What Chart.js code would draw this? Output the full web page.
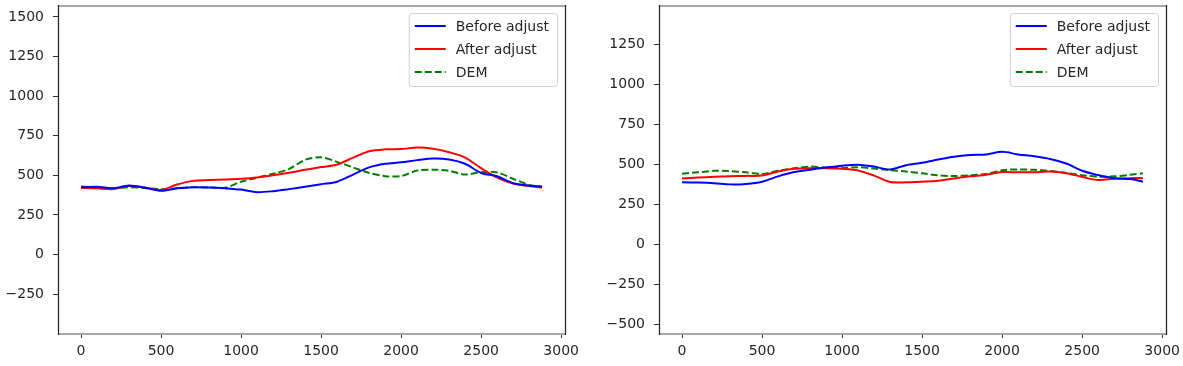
<!DOCTYPE html>
<html lang="en">
<head>
    <meta charset="UTF-8">
    <title>Before / After adjust vs DEM</title>
    <script src="https://cdn.jsdelivr.net/npm/chart.js@4.4.0/dist/chart.umd.min.js"></script>
    <style>
        body {
            margin: 0;
            padding: 0;
            background: #ffffff;
        }
        .wrap {
            position: relative;
            width: 1183px;
            height: 366px;
        }
        .panel {
            position: absolute;
            top: 0;
            height: 366px;
        }
        #leftPanel { left: 0; width: 600px; }
        #rightPanel { left: 600px; width: 583px; }
    </style>
</head>
<body>
<div class="wrap">
    <div class="panel" id="leftPanel"><canvas id="leftChart"></canvas></div>
    <div class="panel" id="rightPanel"><canvas id="rightChart"></canvas></div>
</div>

<script>
// distance along the profile (shared by both panels)
const distance = [0, 100, 200, 300, 400, 500, 600, 700, 800, 900, 1000, 1100, 1200, 1300, 1400,
                  1500, 1600, 1700, 1800, 1900, 2000, 2100, 2200, 2300, 2400, 2500, 2600, 2700, 2800, 2880];

const seriesNames = ['Before adjust', 'After adjust', 'DEM'];

// left panel
const leftBefore = [425, 428, 418, 436, 422, 402, 418, 425, 423, 418, 410, 394, 400, 413, 428,
                    444, 460, 505, 550, 573, 582, 596, 606, 600, 573, 515, 494, 450, 435, 429];
const leftAfter  = [420, 418, 413, 432, 423, 408, 442, 465, 470, 474, 479, 487, 500, 516, 535,
                    552, 568, 612, 652, 664, 666, 675, 668, 646, 612, 545, 486, 448, 432, 421];
const leftDem    = [429, 424, 419, 425, 420, 413, 418, 425, 423, 421, 460, 485, 510, 540, 598,
                    614, 585, 550, 515, 495, 495, 530, 536, 528, 505, 520, 518, 478, 440, 429];

// right panel
const rightBefore = [388, 386, 382, 375, 378, 392, 425, 452, 467, 480, 492, 498, 486, 468, 495,
                     510, 530, 548, 558, 562, 578, 562, 550, 533, 505, 460, 433, 413, 408, 392];
const rightAfter  = [412, 418, 422, 425, 428, 430, 456, 472, 476, 476, 472, 462, 430, 390, 388,
                     392, 398, 412, 425, 435, 452, 450, 451, 455, 445, 422, 402, 410, 414, 414];
const rightDem    = [442, 450, 460, 458, 450, 440, 460, 475, 486, 480, 478, 482, 474, 464, 455,
                     444, 432, 427, 432, 440, 464, 468, 466, 458, 447, 432, 423, 425, 435, 444];

// tick labels
const xTicks = [0, 500, 1000, 1500, 2000, 2500, 3000];
const leftYTicks = [-250, 0, 250, 500, 750, 1000, 1250, 1500];
const rightYTicks = [-500, -250, 0, 250, 500, 750, 1000, 1250];

const FONT = 'DejaVu Sans';
const FONT_SIZE = 14;

function toPoints(ys) {
    return ys.map((y, i) => ({ x: distance[i], y: y }));
}

// box around the plot area, like matplotlib's spines
const frame = {
    id: 'frame',
    afterDatasetsDraw(chart) {
        const a = chart.chartArea, ctx = chart.ctx;
        const l = Math.round(a.left), r = Math.round(a.right);
        const t = Math.round(a.top), b = Math.round(a.bottom);
        ctx.save();
        // top and bottom come out softer in the original
        ctx.strokeStyle = '#a8a8a8';
        ctx.lineWidth = 2;
        ctx.beginPath();
        ctx.moveTo(l, t + 1); ctx.lineTo(r, t + 1);
        ctx.moveTo(l, b + 1); ctx.lineTo(r, b + 1);
        ctx.stroke();
        ctx.strokeStyle = '#2a2a2a';
        ctx.lineWidth = 1.3;
        ctx.beginPath();
        ctx.moveTo(l + 0.5, t); ctx.lineTo(l + 0.5, b + 2);
        ctx.moveTo(r + 0.5, t); ctx.lineTo(r + 0.5, b + 2);
        ctx.stroke();
        ctx.restore();
    }
};

// legend in upper right corner of the plot area
const boxLegend = {
    id: 'boxLegend',
    afterDatasetsDraw(chart) {
        const a = chart.chartArea, ctx = chart.ctx;
        const sets = chart.data.datasets;
        ctx.save();
        ctx.font = FONT_SIZE + 'px "' + FONT + '"';
        let textW = 0;
        sets.forEach(d => { textW = Math.max(textW, ctx.measureText(d.label).width); });
        const w = 47 + textW + 8;
        const h = 73;
        const x0 = a.right - 8 - w;
        const y0 = a.top + 8;
        ctx.fillStyle = 'rgba(255,255,255,0.8)';
        ctx.strokeStyle = '#d0d0d0';
        ctx.lineWidth = 1;
        ctx.beginPath();
        ctx.roundRect(x0 + 0.5, y0 + 0.5, w, h, 3);
        ctx.fill();
        ctx.stroke();
        sets.forEach((d, i) => {
            const cy = y0 + 13 + i * 23;
            ctx.strokeStyle = d.borderColor;
            ctx.lineWidth = 2;
            ctx.setLineDash(d.borderDash || []);
            ctx.beginPath();
            ctx.moveTo(x0 + 6, cy);
            ctx.lineTo(x0 + 37, cy);
            ctx.stroke();
            ctx.setLineDash([]);
            ctx.fillStyle = '#262626';
            ctx.textBaseline = 'middle';
            ctx.fillText(d.label, x0 + 47, cy + 1);
        });
        ctx.restore();
    }
};

function makeChart(canvasId, before, after, dem, yMin, yMax, yTicks, yAxisWidth, padRight) {
    return new Chart(document.getElementById(canvasId), {
        type: 'line',
        data: {
            datasets: [
                { label: seriesNames[0], data: toPoints(before), borderColor: '#0000ff', borderWidth: 2 },
                { label: seriesNames[1], data: toPoints(after), borderColor: '#ff0000', borderWidth: 2 },
                { label: seriesNames[2], data: toPoints(dem), borderColor: '#008000', borderWidth: 2, borderDash: [7, 3] }
            ]
        },
        options: {
            responsive: true,
            maintainAspectRatio: false,
            animation: false,
            elements: { point: { radius: 0 }, line: { tension: 0.3 } },
            layout: { padding: { top: 5, right: padRight, bottom: 0, left: 0 } },
            plugins: { legend: { display: false }, tooltip: { enabled: false } },
            scales: {
                x: {
                    type: 'linear',
                    min: -144,
                    max: 3024,
                    afterBuildTicks: axis => { axis.ticks = xTicks.map(v => ({ value: v })); },
                    afterFit: axis => {
                        axis.height = 33;
                        axis.paddingLeft = 0;
                        axis.paddingRight = 0;
                    },
                    grid: { drawOnChartArea: false, drawTicks: true, tickLength: 5, tickColor: '#333333' },
                    border: { display: false },
                    ticks: {
                        color: '#262626',
                        padding: 5,
                        maxRotation: 0,
                        autoSkip: false,
                        font: { family: FONT, size: FONT_SIZE },
                        callback: v => String(v)
                    }
                },
                y: {
                    min: yMin,
                    max: yMax,
                    afterBuildTicks: axis => { axis.ticks = yTicks.map(v => ({ value: v })); },
                    afterFit: axis => {
                        axis.width = yAxisWidth;
                        axis.paddingTop = 0;
                        axis.paddingBottom = 0;
                    },
                    grid: { drawOnChartArea: false, drawTicks: true, tickLength: 5, tickColor: '#333333' },
                    border: { display: false },
                    ticks: {
                        color: '#262626',
                        padding: 9,
                        autoSkip: false,
                        font: { family: FONT, size: FONT_SIZE },
                        callback: v => String(v).replace('-', '\u2212')
                    }
                }
            }
        },
        plugins: [frame, boxLegend]
    });
}

makeChart('leftChart', leftBefore, leftAfter, leftDem, -495, 1575, leftYTicks, 58, 35);
makeChart('rightChart', rightBefore, rightAfter, rightDem, -553, 1495, rightYTicks, 59, 17);
</script>
</body>
</html>
